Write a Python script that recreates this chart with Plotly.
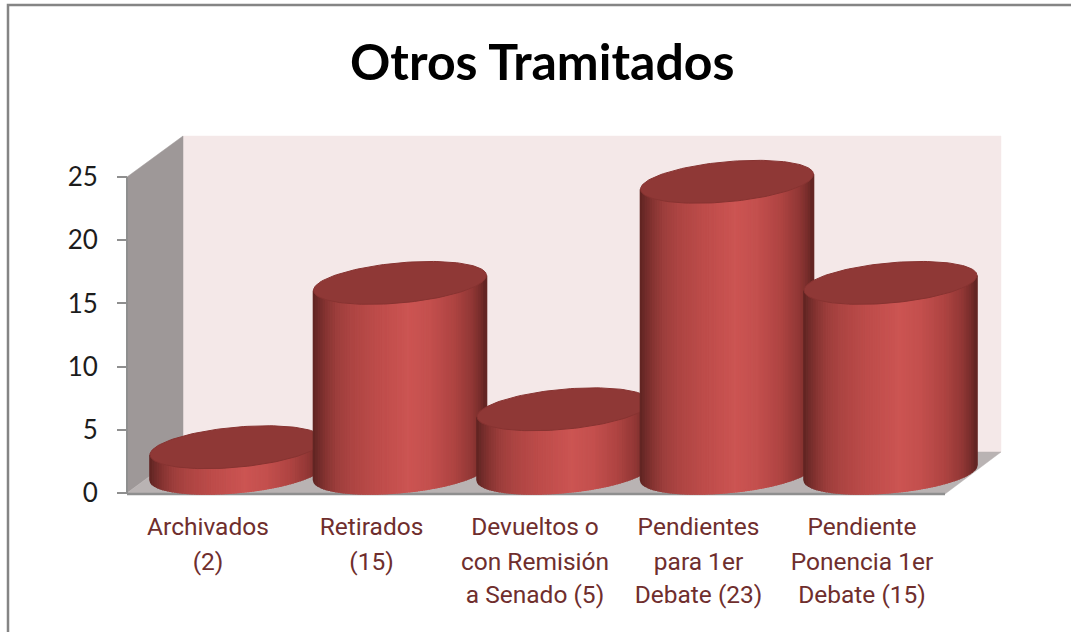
import numpy as np
import plotly.graph_objects as go

# ---- data ----
categories = [
    "Archivados\n(2)",
    "Retirados\n(15)",
    "Devueltos o\ncon Remisión\na Senado (5)",
    "Pendientes\npara 1er\nDebate (23)",
    "Pendiente\nPonencia 1er\nDebate (15)",
]
values = [2, 15, 5, 23, 15]
y_ticks = [0, 5, 10, 15, 20, 25]
title_text = "Otros Tramitados"

# ---- geometry of the drawing (pixels) ----
W, H = 1071, 632
X0, XU = 208.0, 163.5     # pixel of category 0, pixels per category
Y0, YU = 493.0, 12.64     # pixel of value 0, pixels per value unit


def px(p):
    return (p - X0) / XU


def py(p):
    return (Y0 - p) / YU


DX = 28.5 / XU            # cylinder centre offset in depth
RX = 86.5 / XU            # cylinder half width
SKEW = 7.5 / YU           # tilt of the ellipse
RY = 20.1 / YU            # half height of the ellipse
BASE = 20.5 / YU          # centre of the base ellipse above the floor
LABEL_Y = [529, 564, 597]

stops_f = [0, .03, .08, .14, .22, .36, .55, .68, .82, .92, .97, 1]
stops_c = np.array([
    (0x5e, 0x24, 0x22), (0x70, 0x2b, 0x29), (0x88, 0x35, 0x33), (0x9e, 0x3f, 0x3d),
    (0xad, 0x45, 0x43), (0xbd, 0x4c, 0x4a), (0xcc, 0x55, 0x53), (0xc4, 0x50, 0x4e),
    (0xae, 0x44, 0x42), (0x92, 0x38, 0x36), (0x78, 0x2d, 0x2b), (0x5e, 0x24, 0x22),
], dtype=float)


def shade(f):
    return "rgb(%d,%d,%d)" % tuple(np.interp(f, stops_f, stops_c[:, k]) for k in range(3))


def front(cx, cy, x):
    c = np.clip((x - cx) / RX, -1, 1)
    return cy + SKEW * c - RY * np.sqrt(1 - c * c)


fig = go.Figure()
N = 70
for i, v in enumerate(values):
    cx = i + DX
    y_low, y_high = BASE, BASE + v
    edges = np.linspace(cx - RX, cx + RX, N + 1)
    for k in range(N):
        xs = np.linspace(edges[k], edges[k + 1], 4)
        xp = list(xs) + list(xs[::-1]) + [xs[0]]
        yp = list(front(cx, y_high, xs)) + list(front(cx, y_low, xs[::-1]))
        yp.append(yp[0])
        col = shade((k + .5) / N)
        fig.add_trace(go.Scatter(x=xp, y=yp, mode="lines", fill="toself", fillcolor=col,
                                 line=dict(color=col, width=1.6), hoverinfo="skip", showlegend=False))
    t = np.linspace(0, 2 * np.pi, 140)
    fig.add_trace(go.Scatter(
        x=cx + RX * np.cos(t), y=y_high + SKEW * np.cos(t) + RY * np.sin(t),
        mode="lines", fill="toself", fillcolor="#8f3836",
        line=dict(color="#873331", width=1), hoverinfo="skip", showlegend=False))

# category labels, one text per line so that the line spacing can follow the original
lx, ly, lt = [], [], []
for i, label in enumerate(categories):
    for j, part in enumerate(label.split("\n")):
        lx.append(i)
        ly.append(py(LABEL_Y[j]))
        lt.append(part)
fig.add_trace(go.Scatter(x=lx, y=ly, text=lt, mode="text", textposition="middle center",
                         textfont=dict(family="Roboto, Liberation Sans, Arial",
                                       size=24.5, color="#6f2e2d"),
                         hoverinfo="skip", showlegend=False))


def poly(points, fill, line=None):
    path = "M " + " L ".join(f"{px(a):.4f},{py(b):.4f}" for a, b in points) + " Z"
    return dict(type="path", path=path, xref="x", yref="y", layer="below",
                fillcolor=fill, line=dict(color=line or fill, width=0.5))


shapes = [
    poly([(183, 136), (1001, 136), (1001, 452), (183, 452)], "#f4e8e8"),
    poly([(127, 177), (183, 136), (183, 452), (127, 493)], "#9e9898"),
    poly([(127, 493), (183, 452), (1001, 452), (945, 494)], "#b9b3b3"),
    dict(type="line", xref="x", yref="y", x0=px(127), x1=px(945), y0=py(494), y1=py(494),
         layer="below", line=dict(color="#8f8f8f", width=2.5)),
    dict(type="line", xref="x", yref="y", x0=px(127), x1=px(127), y0=py(177), y1=py(494),
         layer="below", line=dict(color="#8f8f8f", width=2)),
    dict(type="path", xref="paper", yref="paper",
         path=f"M {8/W},0 L {8/W},{1-5/H} L 1,{1-5/H}",
         line=dict(color="#858585", width=2.5)),
]

fig.update_layout(
    width=W, height=H, margin=dict(l=0, r=0, t=0, b=0),
    paper_bgcolor="white", plot_bgcolor="white", showlegend=False, shapes=shapes,
    xaxis=dict(range=[px(0), px(W)], visible=False, fixedrange=True),
    yaxis=dict(range=[py(H), py(0)], anchor="free", position=127 / W, tickmode="array",
               tickvals=y_ticks, ticktext=[str(t) for t in y_ticks], ticks="outside", ticklen=10,
               tickwidth=2, tickcolor="#8f8f8f", showgrid=False, zeroline=False, showline=False,
               tickfont=dict(family="Lato", size=26, color="#1c1c1c"), ticklabelstandoff=14,
               fixedrange=True),
    annotations=[dict(text=f"<b>{title_text}</b>", xref="paper", yref="paper", x=542 / W, y=1 - 61 / H,
                      xanchor="center", yanchor="middle", showarrow=False,
                      font=dict(family="Lato", size=50, color="#000000"))],
)

fig.write_html("out.html", config={"displayModeBar": False},
               post_script="document.body.style.margin='0';document.body.style.overflow='hidden';")
